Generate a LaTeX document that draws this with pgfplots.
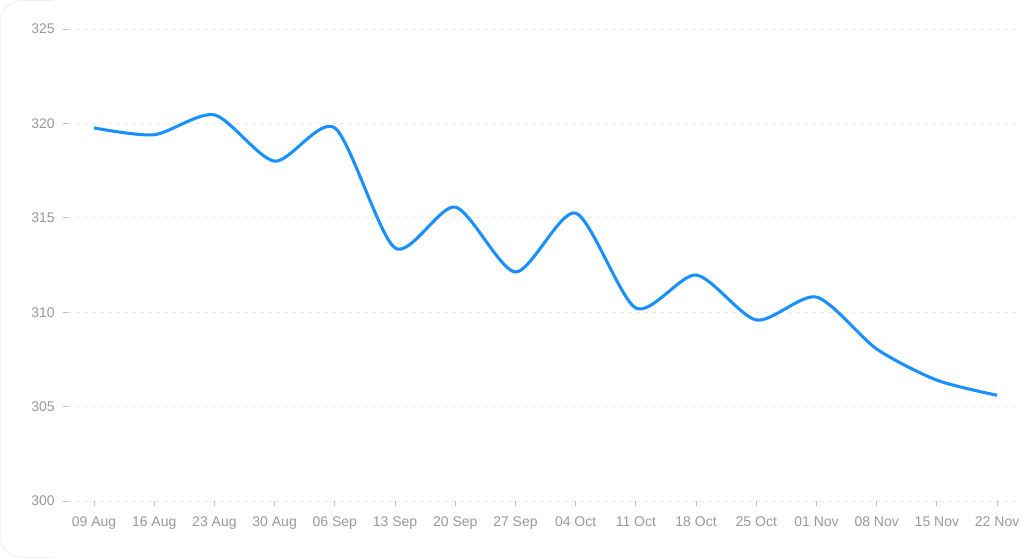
\documentclass[border=0pt]{standalone}
\usepackage{fontspec}
\setmainfont{Liberation Sans}
\usepackage{pgfplots}
\pgfplotsset{compat=1.18}
\definecolor{lineblue}{HTML}{1890FF}
\definecolor{labelgray}{HTML}{999999}
\definecolor{gridgray}{HTML}{EBEBEB}
\definecolor{tickgray}{HTML}{BFBFBF}
\definecolor{cardgray}{HTML}{F0F0F0}
\begin{document}
\begin{tikzpicture}
\useasboundingbox (0,0) rectangle (774.75pt,418.5pt);
% faint rounded left edge of the card
\draw[cardgray, line width=0.75pt, rounded corners=16pt]
    (40pt,418.1pt) -- (0.4pt,418.1pt) -- (0.4pt,0.4pt) -- (40pt,0.4pt);
\begin{axis}[
    at={(51pt,42.75pt)}, anchor=south west,
    scale only axis,
    width=714pt, height=354pt,
    xmin=-0.432, xmax=15.38,
    ymin=300, ymax=325,
    ytick={300,305,...,325},
    xtick={0,...,15},
    xticklabels={09 Aug,16 Aug,23 Aug,30 Aug,06 Sep,13 Sep,20 Sep,27 Sep,04 Oct,11 Oct,18 Oct,25 Oct,01 Nov,08 Nov,15 Nov,22 Nov},
    xtick pos=bottom, ytick pos=left,
    axis line style={draw=none},
    tick align=outside,
    major tick length=3.5pt,
    tick style={tickgray, line width=0.75pt},
    ymajorgrids,
    grid style={gridgray, line width=0.75pt, dash pattern=on 3pt off 3pt},
    tick label style={font=\fontsize{10.5}{12}\selectfont, text=labelgray},
    yticklabel style={xshift=-3pt},
    xticklabel style={yshift=-5pt},
    /pgf/number format/assume math mode=true,
    clip=false,
]
\addplot[lineblue, line width=2.3pt, smooth, tension=0.45] coordinates {
    (0,319.76) (1,319.40) (2,320.45) (3,318.00) (4,319.76) (5,313.40)
    (6,315.57) (7,312.13) (8,315.25) (9,310.22) (10,311.97) (11,309.59)
    (12,310.80) (13,308.05) (14,306.40) (15,305.60)
};
\end{axis}
\end{tikzpicture}
\end{document}
